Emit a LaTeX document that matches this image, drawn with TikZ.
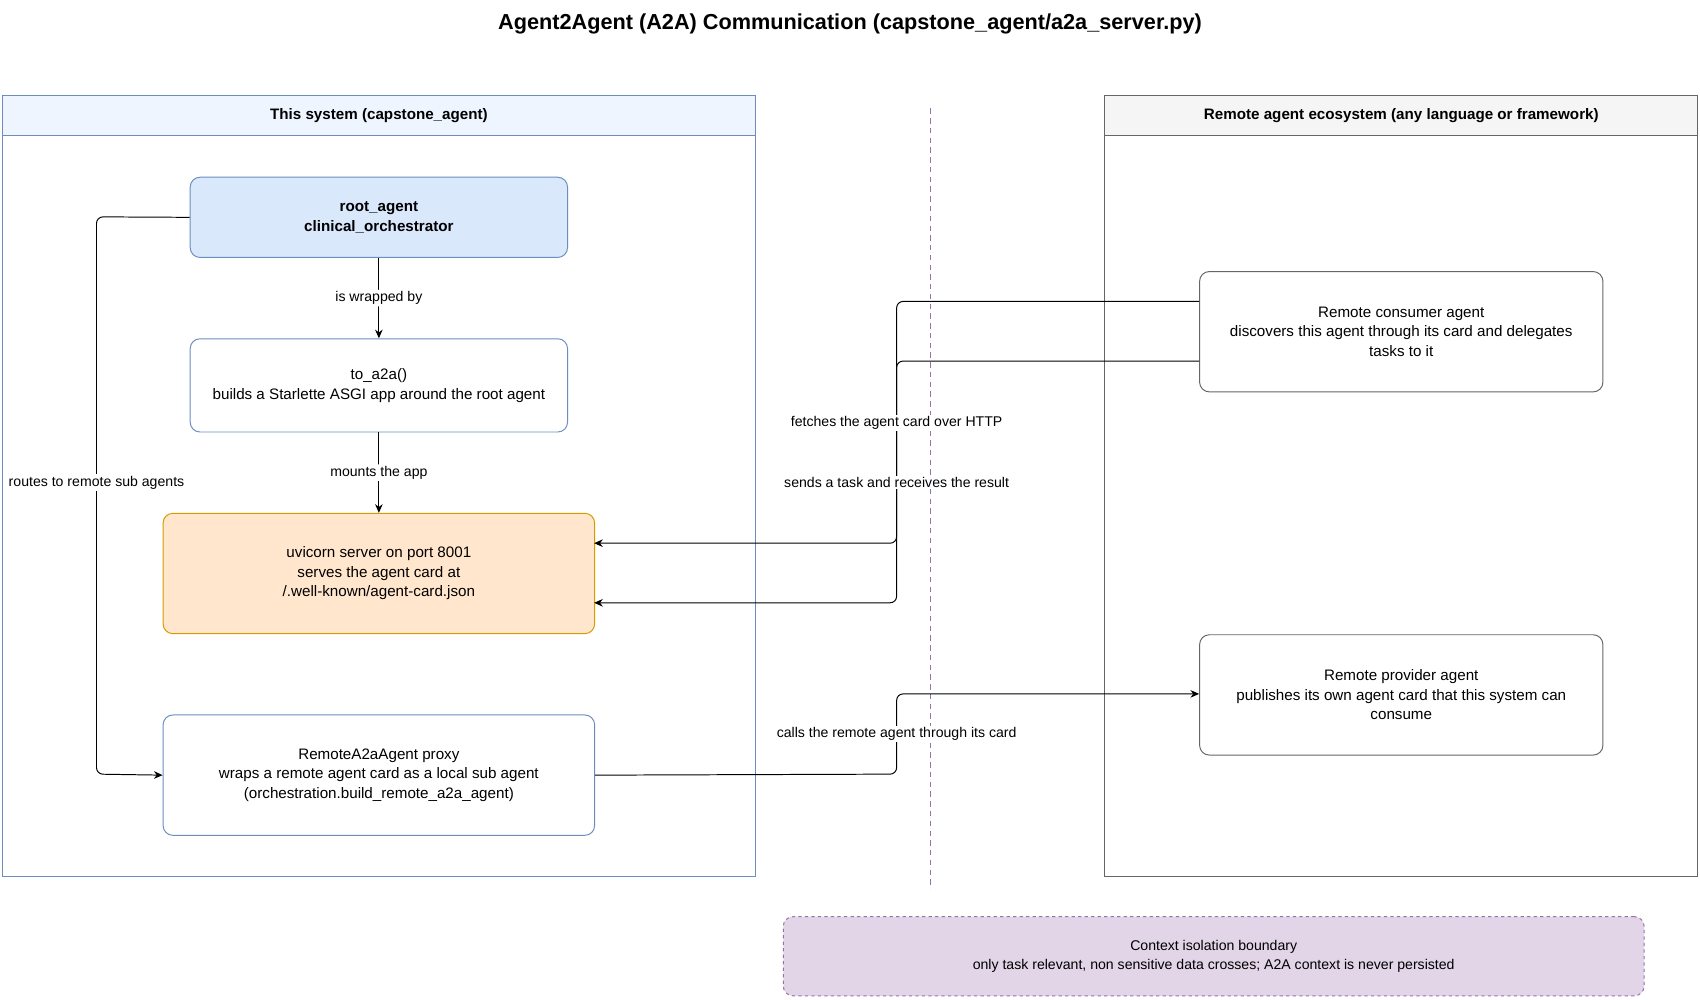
\documentclass[tikz,border=0pt]{standalone}
\usepackage{fontspec}
\setmainfont{Liberation Sans}
\usetikzlibrary{arrows.meta}
\definecolor{bluefill}{HTML}{DAE8FC}
\definecolor{blueline}{HTML}{6C8EBF}
\definecolor{orfill}{HTML}{FFE6CC}
\definecolor{orline}{HTML}{D79B00}
\definecolor{purfill}{HTML}{E1D5E7}
\definecolor{purline}{HTML}{9673A6}
\definecolor{hdrblue}{HTML}{EEF5FF}
\definecolor{hdrgray}{HTML}{F5F5F5}
\definecolor{grayline}{HTML}{666666}
\tikzset{
 box/.style={draw=blueline,rounded corners=9pt,line width=0.9pt,align=center,font=\fontsize{14}{18}\selectfont,anchor=north west,inner sep=0pt},
 graybox/.style={box,draw=grayline},
 lbl/.style={fill=white,inner sep=1.5pt,font=\fontsize{13}{16}\selectfont},
 conn/.style={draw,line width=0.9pt,rounded corners=6pt,-{Stealth[length=8pt,width=7pt]}}
}
\begin{document}
\begin{tikzpicture}[x=1pt,y=-1pt]
\useasboundingbox[fill=white] (0,0) rectangle (1568,922);
\node[font=\fontsize{20}{24}\selectfont\bfseries] (title) at (784,22) {Agent2Agent (A2A) Communication (capstone\_agent/a2a\_server.py)};
% containers
\draw[blueline,line width=0.9pt,fill=hdrblue] (2,88) rectangle (697,125);
\draw[blueline,line width=0.9pt] (2,125) rectangle (697,808);
\node[font=\fontsize{14}{17}\selectfont\bfseries] (lh) at (349.5,106.5) {This system (capstone\_agent)};
\draw[grayline,line width=0.9pt,fill=hdrgray] (1019,88) rectangle (1566,125);
\draw[grayline,line width=0.9pt] (1019,125) rectangle (1566,808);
\node[font=\fontsize{14}{17}\selectfont\bfseries] (rh) at (1292.5,106.5) {Remote agent ecosystem (any language or framework)};
\draw[purline,dashed,line width=1.2pt,dash pattern=on 5pt off 4pt] (858,100) -- (858,820);
% nodes
\node[box,fill=bluefill,minimum width=348pt,minimum height=74pt,font=\fontsize{14}{18}\selectfont\bfseries] (root) at (175,163) {root\_agent\\clinical\_orchestrator};
\node[box,fill=white,minimum width=348pt,minimum height=86pt] (toa) at (175,312) {to\_a2a()\\builds a Starlette ASGI app around the root agent};
\node[box,fill=orfill,draw=orline,minimum width=398pt,minimum height=111pt] (uvi) at (150,473) {uvicorn server on port 8001\\serves the agent card at\\/.well-known/agent-card.json};
\node[box,fill=white,minimum width=398pt,minimum height=111pt] (rem) at (150,659) {RemoteA2aAgent proxy\\wraps a remote agent card as a local sub agent\\(orchestration.build\_remote\_a2a\_agent)};
\node[graybox,fill=white,minimum width=372pt,minimum height=111pt] (cons) at (1106,250) {Remote consumer agent\\discovers this agent through its card and delegates\\tasks to it};
\node[graybox,fill=white,minimum width=372pt,minimum height=111pt] (prov) at (1106,585) {Remote provider agent\\publishes its own agent card that this system can\\consume};
\node[box,fill=purfill,draw=purline,dashed,minimum width=794pt,minimum height=73pt,font=\fontsize{13}{18}\selectfont] (ctx) at (722,845) {Context isolation boundary\\only task relevant, non sensitive data crosses; A2A context is never persisted};
% edges
\draw[conn] (root.south) -- node[lbl]{is wrapped by} (toa.north);
\draw[conn] (toa.south) -- node[lbl]{mounts the app} (uvi.north);
\draw[conn] (root.west) -- (89,200) -- (89,714) -- (rem.west);
\node[lbl] (l1) at (89,445) {routes to remote sub agents};
\coordinate (c1) at (1106,278);
\coordinate (c2) at (1106,333);
\coordinate (u1) at (548,501);
\coordinate (u2) at (548,556);
\draw[conn] (c1) -- (827,278) -- (827,501) -- (u1);
\draw[conn] (c2) -- (827,333) -- (827,556) -- (u2);
\node[lbl] (l2) at (827,390) {fetches the agent card over HTTP};
\node[lbl] (l3) at (827,445) {sends a task and receives the result};
\coordinate (p1) at (1106,640);
\draw[conn] (rem.east) -- (827,714) -- (827,640) -- (p1);
\node[lbl] (l4) at (827,677) {calls the remote agent through its card};
\end{tikzpicture}
\end{document}
